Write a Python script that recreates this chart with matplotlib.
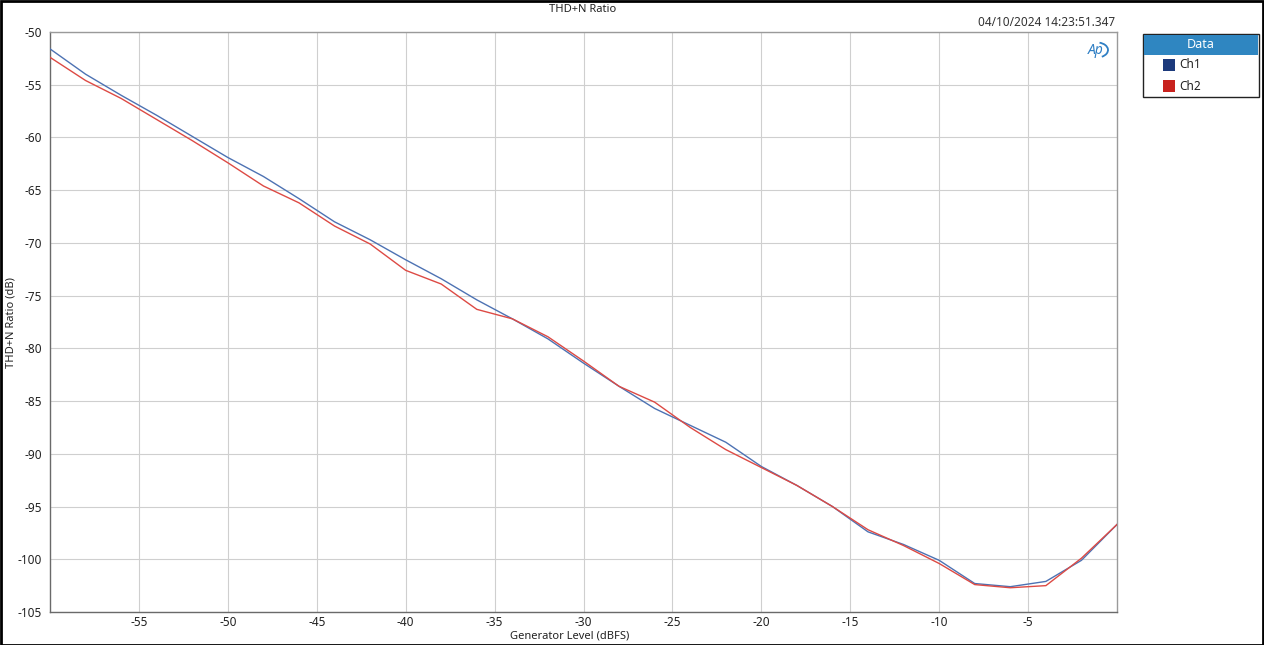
import matplotlib
matplotlib.use("Agg")
import matplotlib.pyplot as plt
from matplotlib.patches import Rectangle, Arc

plt.rcParams["font.family"] = ["Noto Sans", "DejaVu Sans"]
plt.rcParams["axes.unicode_minus"] = False

gen_level = [-60, -58, -56, -54, -52, -50, -48, -46, -44, -42, -40, -38, -36, -34, -32,
             -30, -28, -26, -24, -22, -20, -18, -16, -14, -12, -10, -8, -6, -4, -2, 0]
ch1 = [-51.6, -54.0, -56.0, -57.9, -59.9, -61.9, -63.7, -65.8, -68.0, -69.7, -71.6, -73.4,
       -75.4, -77.2, -79.1, -81.4, -83.6, -85.7, -87.3, -88.9, -91.2, -93.0, -95.0, -97.4,
       -98.6, -100.1, -102.3, -102.6, -102.1, -100.1, -96.7]
ch2 = [-52.4, -54.6, -56.3, -58.3, -60.3, -62.4, -64.6, -66.2, -68.4, -70.1, -72.6, -73.9,
       -76.3, -77.2, -78.9, -81.2, -83.6, -85.1, -87.5, -89.6, -91.3, -93.0, -95.0, -97.2,
       -98.7, -100.4, -102.4, -102.7, -102.5, -99.9, -96.7]

x_ticks = [-55, -50, -45, -40, -35, -30, -25, -20, -15, -10, -5]
y_ticks = [-50, -55, -60, -65, -70, -75, -80, -85, -90, -95, -100, -105]

W, H = 1264, 645
fig = plt.figure(figsize=(W / 100, H / 100), dpi=100)
fig.patch.set_facecolor("white")
ax = fig.add_axes([50 / W, (H - 612) / H, (1117 - 50) / W, (612 - 32) / H])

ax.plot(gen_level, ch1, color="#4d72b3", lw=1.0, zorder=3)
ax.plot(gen_level, ch2, color="#dd4a44", lw=1.0, zorder=3)

ax.set_xlim(-60, 0)
ax.set_ylim(-105, -50)
ax.set_xticks(x_ticks)
ax.set_yticks(y_ticks)
ax.tick_params(length=0, labelsize=8.5, colors="#222222")
ax.tick_params(axis="x", pad=3)
ax.tick_params(axis="y", pad=6)
ax.grid(True, color="#cfcfcf", lw=0.8)
ax.set_axisbelow(True)
for name, sp in ax.spines.items():
    sp.set_color("#6a6a6a" if name in ("left", "bottom") else "#9a9a9a")
    sp.set_linewidth(1.0)

fig.text(570 / W, 1 - 636 / H, "Generator Level (dBFS)", ha="center", va="center", fontsize=8, color="#222222")
fig.text(11 / W, 1 - 322 / H, "THD+N Ratio (dB)", ha="center", va="center", rotation=90, fontsize=8, color="#222222")
fig.text(583 / W, 1 - 9 / H, "THD+N Ratio", ha="center", va="center", fontsize=8, color="#222222")
fig.text(1115 / W, 1 - 22 / H, "04/10/2024 14:23:51.347", ha="right", va="center", fontsize=8.5, color="#333333")

# AP logo
fig.text(1096 / W, 1 - 50 / H, "Ap", ha="center", va="center", fontsize=10, fontweight="bold",
         fontstyle="italic", color="#2f7fc4")
fig.add_artist(Arc((1097 / W, 1 - 50 / H), 22 / W, 15 / H, theta1=-70, theta2=80,
                   transform=fig.transFigure, color="#2f7fc4", lw=1.3))

# legend box
fig.add_artist(Rectangle((1143 / W, 1 - 97 / H), 116 / W, 63 / H, transform=fig.transFigure,
                         facecolor="white", edgecolor="#222222", lw=1.0))
fig.add_artist(Rectangle((1144 / W, 1 - 55 / H), 114 / W, 20 / H, transform=fig.transFigure,
                         facecolor="#2f86c1", edgecolor="none"))
fig.text(1201 / W, 1 - 45 / H, "Data", ha="center", va="center", fontsize=9, fontweight="bold", color="white")
for label, col, yy in [("Ch1", "#1c3a7c", 65), ("Ch2", "#c8221e", 86)]:
    fig.add_artist(Rectangle((1163 / W, 1 - (yy + 6) / H), 12 / W, 12 / H, transform=fig.transFigure,
                             facecolor=col, edgecolor="none"))
    fig.text(1179 / W, 1 - yy / H, label, ha="left", va="center", fontsize=8.5, color="#222222")

# figure border
fig.add_artist(Rectangle((0.5 / W, 0.5 / H), (W - 1.5) / W, (H - 1.5) / H, transform=fig.transFigure,
                         facecolor="none", edgecolor="black", lw=2.0))

fig.savefig("out.png", dpi=100)
